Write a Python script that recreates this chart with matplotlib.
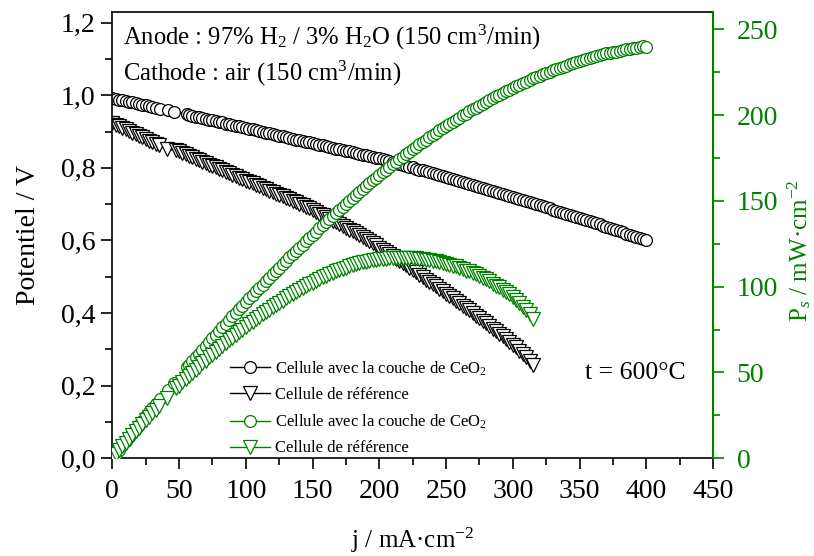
import matplotlib
matplotlib.use('Agg')
import matplotlib.pyplot as plt
from matplotlib.ticker import MultipleLocator, FuncFormatter

plt.rcParams['font.family'] = 'Liberation Serif'
plt.rcParams['mathtext.fontset'] = 'custom'
plt.rcParams['mathtext.rm'] = 'Liberation Serif'
plt.rcParams['mathtext.it'] = 'Liberation Serif:italic'

# Cellule avec la couche de CeO2 : j (mA/cm2), potentiel (V), puissance (mW/cm2)
j_ceo2 = [0, 2.5, 5, 7.5, 10, 12.5, 15, 17.5, 20, 22.5, 25, 27.5, 30, 32.5,
          36, 41.5, 46,
          56, 57.5, 60, 62.5, 65, 67.5, 70, 72.5, 75, 77.5, 80, 82.5, 85, 87.5,
          90, 92.5, 95, 97.5, 100, 102.5, 105, 107.5, 110, 112.5, 115, 117.5,
          120, 122.5, 125, 127.5, 130, 132.5, 135, 137.5, 140, 142.5, 145, 147.5,
          150, 152.5, 155, 157.5, 160, 162.5, 165, 167.5, 170, 172.5, 175, 177.5,
          180, 182.5, 185, 187.5, 190, 192.5, 195, 197.5, 200, 202.5, 205, 207.5,
          210, 212.5, 215, 217.5, 220, 222.5, 225, 227.5, 230, 232.5, 235, 237.5,
          240, 242.5, 245, 247.5, 250, 252.5, 255, 257.5, 260, 262.5, 265, 267.5,
          270, 272.5, 275, 277.5, 280, 282.5, 285, 287.5, 290, 292.5, 295, 297.5,
          300, 302.5, 305, 307.5, 310, 312.5, 315, 317.5, 320, 322.5, 325, 327.5,
          330, 332.5, 335, 337.5, 340, 342.5, 345, 347.5, 350, 352.5, 355, 357.5,
          360, 362.5, 365, 367.5, 370, 372.5, 375, 377.5, 380, 382.5, 385, 387.5,
          390, 392.5, 395, 397.5, 400]
v_ceo2 = [0.992, 0.990, 0.988, 0.986, 0.984, 0.982, 0.980, 0.978, 0.976, 0.974,
          0.972, 0.970, 0.968, 0.966,
          0.963, 0.959, 0.955,
          0.947, 0.946, 0.943, 0.941, 0.939, 0.937, 0.935, 0.933, 0.931, 0.929,
          0.927, 0.925, 0.922, 0.920, 0.918, 0.916, 0.914, 0.912, 0.910, 0.908,
          0.906, 0.904, 0.901, 0.899, 0.897, 0.895, 0.893, 0.891, 0.889, 0.887,
          0.885, 0.883, 0.880, 0.878, 0.876, 0.874, 0.872, 0.870, 0.868, 0.866,
          0.864, 0.862, 0.859, 0.857, 0.855, 0.853, 0.851, 0.849, 0.847, 0.845,
          0.843, 0.841, 0.838, 0.836, 0.834, 0.832, 0.830, 0.828, 0.826, 0.823,
          0.821, 0.818, 0.816, 0.813, 0.811, 0.808, 0.806, 0.803, 0.801, 0.798,
          0.795, 0.793, 0.790, 0.788, 0.785, 0.782, 0.780, 0.777, 0.774, 0.772,
          0.769, 0.766, 0.764, 0.761, 0.758, 0.756, 0.753, 0.750, 0.747, 0.745,
          0.742, 0.739, 0.736, 0.734, 0.731, 0.728, 0.725, 0.722, 0.720, 0.717,
          0.714, 0.711, 0.708, 0.705, 0.703, 0.700, 0.697, 0.694, 0.691, 0.688,
          0.685, 0.682, 0.679, 0.676, 0.673, 0.671, 0.668, 0.665, 0.662, 0.659,
          0.656, 0.653, 0.650, 0.647, 0.644, 0.641, 0.638, 0.634, 0.631, 0.628,
          0.625, 0.622, 0.619, 0.616, 0.613, 0.610, 0.607, 0.604, 0.600]
p_ceo2 = [0, 2.5, 4.9, 7.4, 9.8, 12.3, 14.7, 17.1, 19.5, 21.9, 24.3, 26.7,
          29.0, 31.4,
          34.7, 39.8, 43.9,
          53.0, 54.4, 56.6, 58.8, 61.0, 63.2, 65.5, 67.6, 69.8, 72.0, 74.2,
          76.3, 78.4, 80.5, 82.6, 84.7, 86.8, 88.9, 91.0, 93.1, 95.1, 97.2,
          99.1, 101.1, 103.2, 105.2, 107.2, 109.1, 111.1, 113.1, 115.1, 117.0,
          118.8, 120.7, 122.6, 124.5, 126.4, 128.3, 130.2, 132.1, 133.9, 135.8,
          137.4, 139.3, 141.1, 142.9, 144.7, 146.5, 148.2, 150.0, 151.7, 153.5,
          155.0, 156.8, 158.5, 160.2, 161.9, 163.5, 165.2, 166.7, 168.3, 169.7,
          171.4, 172.8, 174.4, 175.7, 177.3, 178.7, 180.2, 181.5, 182.9, 184.4,
          185.7, 187.2, 188.4, 189.6, 191.1, 192.3, 193.5, 194.9, 196.1, 197.2,
          198.6, 199.8, 200.9, 202.2, 203.3, 204.4, 205.4, 206.7, 207.8, 208.8,
          209.8, 211.0, 212.0, 212.9, 213.9, 214.8, 216.0, 216.9, 217.8, 218.6,
          219.5, 220.3, 221.4, 222.3, 223.0, 223.8, 224.6, 225.3, 226.1, 226.8,
          227.5, 228.2, 228.8, 229.8, 230.5, 231.1, 231.7, 232.3, 232.9, 233.4,
          234.0, 234.5, 235.1, 235.6, 236.1, 236.2, 236.6, 237.1, 237.5, 237.9,
          238.3, 238.7, 239.1, 239.4, 239.8, 240.1, 240.0]

# Cellule de reference
j_ref = [0, 2.5, 5, 7.5, 10, 12.5, 15, 17.5, 20, 22.5, 25, 27.5, 30, 32.5, 35,
         41,
         48, 50, 52.5, 55, 57.5, 60, 62.5, 65, 67.5, 70, 72.5, 75, 77.5, 80,
         82.5, 85, 87.5, 90, 92.5, 95, 97.5, 100, 102.5, 105, 107.5, 110, 112.5,
         115, 117.5, 120, 122.5, 125, 127.5, 130, 132.5, 135, 137.5, 140, 142.5,
         145, 147.5, 150, 152.5, 155, 157.5, 160, 162.5, 165, 167.5, 170, 172.5,
         175, 177.5, 180, 182.5, 185, 187.5, 190, 192.5, 195, 197.5, 200, 202.5,
         205, 207.5, 210, 212.5, 215, 217.5, 220, 222.5, 225, 227.5, 230, 232.5,
         235, 237.5, 240, 242.5, 245, 247.5, 250, 252.5, 255, 257.5, 260, 262.5,
         265, 267.5, 270, 272.5, 275, 277.5, 280, 282.5, 285, 287.5, 290, 292.5,
         295, 297.5, 300, 302.5, 305, 307.5, 310, 312.5, 315]
v_ref = [0.923, 0.919, 0.914, 0.910, 0.906, 0.901, 0.897, 0.892, 0.888, 0.884,
         0.879, 0.875, 0.871, 0.866, 0.862,
         0.851,
         0.848, 0.845, 0.841, 0.837, 0.833, 0.829, 0.825, 0.821, 0.817, 0.813,
         0.809, 0.805, 0.801, 0.797, 0.793, 0.789, 0.785, 0.781, 0.777, 0.773,
         0.769, 0.765, 0.761, 0.757, 0.753, 0.749, 0.745, 0.741, 0.737, 0.733,
         0.729, 0.725, 0.721, 0.717, 0.713, 0.709, 0.705, 0.701, 0.697, 0.693,
         0.689, 0.683, 0.678, 0.673, 0.669, 0.664, 0.659, 0.654, 0.650, 0.645,
         0.640, 0.635, 0.630, 0.625, 0.620, 0.614, 0.609, 0.603, 0.598, 0.592,
         0.586, 0.580, 0.574, 0.568, 0.562, 0.556, 0.550, 0.543, 0.537, 0.531,
         0.525, 0.518, 0.512, 0.505, 0.499, 0.492, 0.486, 0.479, 0.473, 0.466,
         0.460, 0.453, 0.447, 0.440, 0.434, 0.427, 0.420, 0.413, 0.407, 0.400,
         0.393, 0.386, 0.379, 0.372, 0.365, 0.357, 0.350, 0.343, 0.336, 0.328,
         0.321, 0.313, 0.305, 0.296, 0.287, 0.278, 0.268, 0.257]
p_ref = [0, 2.3, 4.6, 6.8, 9.1, 11.3, 13.5, 15.6, 17.8, 19.9, 22.0, 24.1,
         26.1, 28.2, 30.2,
         34.9,
         40.7, 42.3, 44.2, 46.0, 47.9, 49.7, 51.6, 53.4, 55.2, 56.9, 58.7,
         60.4, 62.1, 63.8, 65.4, 67.1, 68.7, 70.3, 71.9, 73.4, 75.0, 76.5,
         78.0, 79.5, 81.0, 82.4, 83.8, 85.2, 86.6, 88.0, 89.3, 90.6, 91.9,
         93.2, 94.5, 95.7, 96.9, 98.1, 99.3, 100.5, 101.6, 102.4, 103.4,
         104.3, 105.4, 106.2, 107.1, 107.9, 108.9, 109.6, 110.4, 111.1, 111.8,
         112.5, 113.1, 113.6, 114.2, 114.6, 115.1, 115.4, 115.7, 116.0, 116.2,
         116.4, 116.6, 116.8, 116.9, 116.7, 116.8, 116.8, 116.8, 116.5, 116.5,
         116.1, 116.0, 115.6, 115.4, 114.9, 114.7, 114.2, 113.8, 113.2, 112.9,
         112.2, 111.8, 111.0, 110.2, 109.4, 108.9, 108.0, 107.1, 106.1, 105.2,
         104.2, 103.1, 101.7, 100.6, 99.5, 98.3, 96.8, 95.5, 93.9, 92.3,
         90.3, 88.3, 86.2, 83.8, 81.0]

label_ceo2 = 'Cellule avec la couche de CeO$_2$'
label_ref = 'Cellule de référence'
green = '#008000'

fig = plt.figure(figsize=(8.14, 5.56), dpi=100)
ax = fig.add_axes([0.138, 0.176, 0.738, 0.802])
ax2 = ax.twinx()

h1, = ax.plot(j_ceo2, v_ceo2, '-o', color='black', mfc='white', mec='black',
              ms=8.5, mew=0.9, lw=1.0, label=label_ceo2)
h2, = ax.plot(j_ref, v_ref, '-v', color='black', mfc='white', mec='black',
              ms=9.5, mew=0.9, lw=1.0, label=label_ref)
h3, = ax2.plot(j_ceo2, p_ceo2, '-o', color=green, mfc='white', mec=green,
               ms=8.5, mew=0.9, lw=1.0, label=label_ceo2)
h4, = ax2.plot(j_ref, p_ref, '-v', color=green, mfc='white', mec=green,
               ms=9.5, mew=0.9, lw=1.0, label=label_ref)

ax.set_xlim(0, 450)
ax.set_ylim(0, 1.2287)
ax2.set_ylim(0, 260)

ax.xaxis.set_major_locator(MultipleLocator(50))
ax.xaxis.set_minor_locator(MultipleLocator(25))
ax.yaxis.set_major_locator(MultipleLocator(0.2))
ax.yaxis.set_minor_locator(MultipleLocator(0.1))
ax.yaxis.set_major_formatter(FuncFormatter(lambda v, p: ('%.1f' % v).replace('.', ',')))
ax2.yaxis.set_major_locator(MultipleLocator(50))
ax2.yaxis.set_minor_locator(MultipleLocator(25))

ax.tick_params(axis='both', which='major', direction='out', length=8, width=1.2,
               labelsize=20, top=False, right=False)
ax.tick_params(axis='x', which='major', pad=7)
ax.tick_params(axis='y', which='major', pad=4)
ax.tick_params(axis='both', which='minor', direction='out', length=5, width=1.2,
               top=False, right=False)
ax2.tick_params(axis='y', which='major', direction='out', length=8, width=1.2,
                labelsize=20, colors=green, pad=9)
ax2.tick_params(axis='y', which='minor', direction='out', length=5, width=1.2,
                colors=green)

for s in ax.spines.values():
    s.set_linewidth(1.2)
ax2.spines['right'].set_color(green)
ax2.spines['right'].set_linewidth(1.5)
ax.spines['right'].set_visible(False)
for s in ['left', 'top', 'bottom']:
    ax2.spines[s].set_visible(False)

ax.set_xlabel('j / mA·cm$^{-2}$', fontsize=18, labelpad=16)
ax.set_ylabel('Potentiel / V', fontsize=20, labelpad=14)
ax2.set_ylabel('P$_s$ / mW·cm$^{-2}$', fontsize=18, color=green)
ax2.yaxis.set_label_coords(1.12, 0.466)

ax.text(0.017, 0.9276, 'Anode : 97% H$_2$ / 3% H$_2$O (150 cm$^3$/min)',
        transform=ax.transAxes, fontsize=17.7, va='baseline', ha='left')
ax.text(0.017, 0.8475, 'Cathode : air (150 cm$^3$/min)',
        transform=ax.transAxes, fontsize=17.7, va='baseline', ha='left')
ax.text(0.787, 0.177, 't = 600°C', transform=ax.transAxes, fontsize=18.5,
        va='baseline', ha='left')

ax2.legend(handles=[h1, h2, h3, h4], loc='upper left', bbox_to_anchor=(0.196, 0.222),
           frameon=False, fontsize=12, handlelength=2.4, handletextpad=0.3,
           labelspacing=0.57, borderpad=0, borderaxespad=0)

fig.savefig('out.png', dpi=100)
